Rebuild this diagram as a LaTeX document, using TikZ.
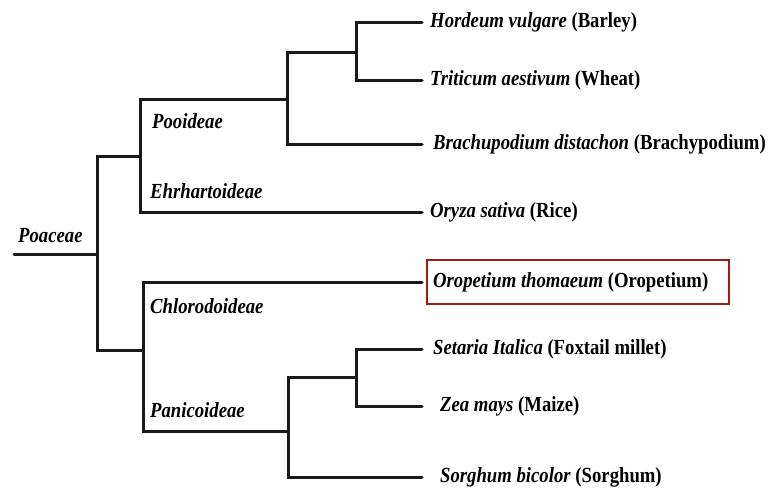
\documentclass[tikz,border=0pt]{standalone}
\usepackage{fontspec}
\setmainfont{Liberation Serif}[FakeStretch=0.87]
\definecolor{boxred}{RGB}{158,28,18}
\tikzset{
  branch/.style={line width=3pt, line cap=round, line join=miter, black!90},
  leaf/.style={anchor=west, inner sep=0pt, font=\fontsize{21.5}{24}\selectfont\bfseries, text height=15pt, text depth=4pt},
  clade/.style={anchor=west, inner sep=0pt, font=\fontsize{21.5}{24}\selectfont\bfseries\itshape, text height=15pt, text depth=4pt},
}
\begin{document}
\begin{tikzpicture}[x=1pt,y=-1pt]
\useasboundingbox (0,0) rectangle (770,493);
% internal points
\coordinate (rs) at (14,254);
\coordinate (r) at (97,254);
\coordinate (A) at (140,156);
\coordinate (B) at (143,350);
\coordinate (P) at (287,99);
\coordinate (TW) at (356,52);
\coordinate (Pan) at (288,431);
\coordinate (SZ) at (356,377);
% leaves
\node[leaf] (hv) at (430,22) {\textit{Hordeum vulgare} (Barley)};
\node[leaf] (ta) at (430,80) {\textit{Triticum aestivum} (Wheat)};
\node[leaf] (bd) at (433,144) {\textit{Brachupodium distachon} (Brachypodium)};
\node[leaf] (os) at (430,212) {\textit{Oryza sativa} (Rice)};
\node[leaf] (ot) at (433,282) {\textit{Oropetium thomaeum} (Oropetium)};
\node[leaf] (si) at (433,349) {\textit{Setaria Italica} (Foxtail millet)};
\node[leaf] (zm) at (440,406) {\textit{Zea mays} (Maize)};
\node[leaf] (sb) at (440,477) {\textit{Sorghum bicolor} (Sorghum)};
% clade labels
\node[clade] (lpoa) at (18,237) {Poaceae};
\node[clade] (lpoo) at (152,123) {Pooideae};
\node[clade] (lehr) at (150,193) {Ehrhartoideae};
\node[clade] (lchl) at (150,308) {Chlorodoideae};
\node[clade] (lpan) at (150,412) {Panicoideae};
% highlight box
\draw[boxred, line width=2.2pt] (427,260) rectangle (729,304);
% tree
\draw[branch] (rs) -- (r);
\draw[branch] (A) -| (r);
\draw[branch] (B) -| (r);
\draw[branch] (P) -| (A);
\draw[branch] ([xshift=-8pt]os.west) -| (A);
\draw[branch] (TW) -| (P);
\draw[branch] ([xshift=-11pt]bd.west) -| (P);
\draw[branch] ([xshift=-8pt]hv.west) -| (TW);
\draw[branch] ([xshift=-8pt]ta.west) -| (TW);
\draw[branch] ([xshift=-11pt]ot.west) -| (B);
\draw[branch] (Pan) -| (B);
\draw[branch] (SZ) -| (Pan);
\draw[branch] ([xshift=-18pt]sb.west) -| (Pan);
\draw[branch] ([xshift=-11pt]si.west) -| (SZ);
\draw[branch] ([xshift=-18pt]zm.west) -| (SZ);
\end{tikzpicture}
\end{document}
